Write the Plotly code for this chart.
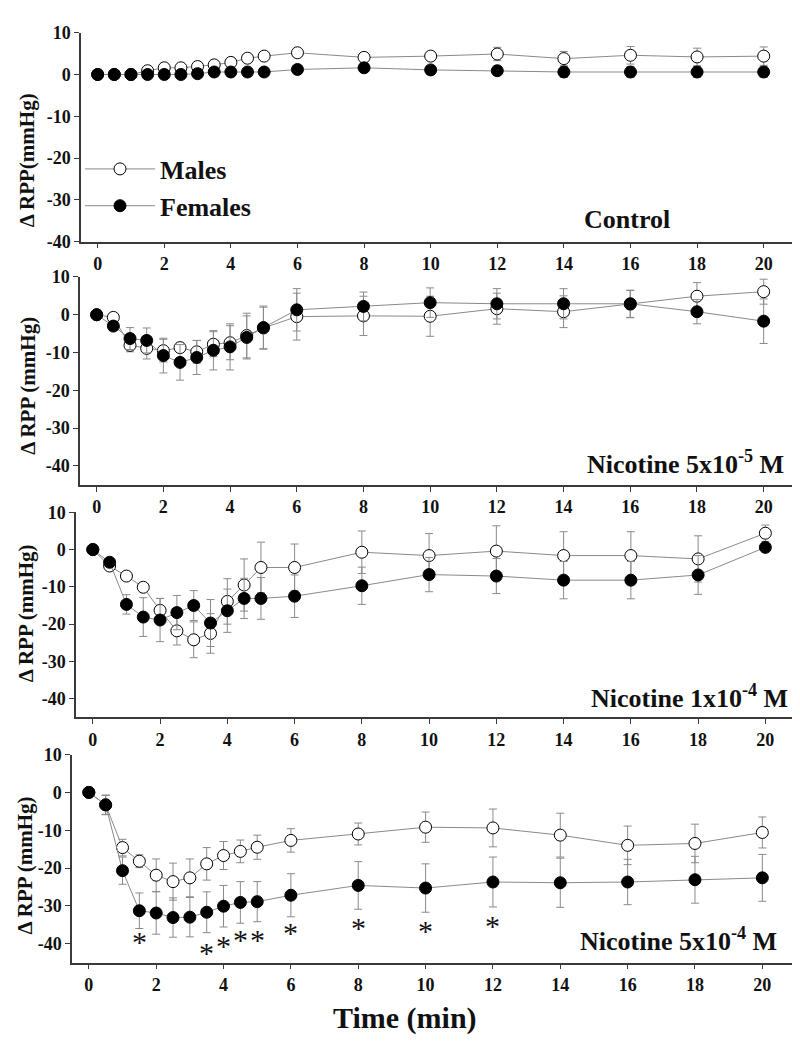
import plotly.graph_objects as go

W, H = 800, 1043
FONT = 'Liberation Serif, Times New Roman, serif'

# time points (min)
time = [0, 0.5, 1, 1.5, 2, 2.5, 3, 3.5, 4, 4.5, 5, 6, 8, 10, 12, 14, 16, 18, 20]

# Control
ctrl_m = [0, 0, 0, 0.9, 1.6, 1.6, 1.9, 2.3, 2.9, 3.9, 4.4, 5.2, 4.1, 4.4, 4.9, 3.8, 4.6, 4.2, 4.4]
ctrl_m_err = [0.3, 0.3, 0.3, 0.5, 0.6, 0.6, 0.6, 0.7, 0.8, 0.9, 1.0, 1.0, 1.0, 0.9, 1.6, 1.7, 2.1, 2.1, 2.2]
ctrl_f = [0, 0, 0, 0, 0, 0, 0.2, 0.6, 0.6, 0.6, 0.6, 1.2, 1.6, 1.1, 0.9, 0.6, 0.6, 0.6, 0.6]
ctrl_f_err = [0.3, 0.3, 0.3, 0.3, 0.3, 0.3, 0.4, 0.5, 0.5, 0.5, 0.5, 0.8, 0.9, 1.0, 1.1, 1.3, 1.3, 1.3, 1.3]

# Nicotine 5x10^-5 M
n55_m = [0, -0.7, -8.1, -8.9, -9.5, -8.7, -9.8, -7.8, -7.4, -5.5, -3.5, -0.5, -0.3, -0.4, 1.6, 0.8, 2.8, 4.9, 6.1]
n55_m_err = [0.3, 0.8, 1.7, 2.8, 3.0, 1.2, 3.0, 3.3, 4.5, 5.9, 5.5, 6.2, 5.2, 5.3, 4.1, 4.2, 3.6, 3.6, 3.3]
n55_f = [0, -3.0, -6.3, -6.8, -10.8, -12.6, -11.3, -9.4, -8.5, -6.0, -3.4, 1.3, 2.2, 3.2, 2.9, 2.9, 2.9, 0.8, -1.7]
n55_f_err = [0.3, 0.8, 2.9, 3.3, 4.6, 4.7, 4.5, 5.2, 6.1, 5.7, 5.7, 5.6, 3.8, 3.9, 4.0, 4.0, 3.6, 3.2, 5.9]

# Nicotine 1x10^-4 M
n14_m = [0, -4.4, -7.1, -10.1, -16.3, -21.8, -24.2, -22.5, -13.9, -9.5, -4.8, -4.8, -0.7, -1.6, -0.4, -1.6, -1.6, -2.5, 4.4]
n14_m_err = [0.3, 0.6, 0.6, 1.0, 3.2, 3.8, 4.8, 5.3, 6.1, 7.0, 6.8, 6.3, 5.7, 5.9, 6.8, 6.4, 6.4, 6.2, 2.2]
n14_f = [0, -3.4, -14.7, -18.1, -18.9, -16.9, -15.0, -19.7, -16.4, -13.1, -13.1, -12.5, -9.7, -6.7, -7.1, -8.2, -8.2, -6.8, 0.6]
n14_f_err = [0.3, 0.8, 2.6, 5.2, 5.8, 4.6, 4.0, 6.3, 5.8, 5.4, 5.6, 5.7, 5.0, 4.6, 4.7, 5.0, 5.0, 5.2, 1.0]

# Nicotine 5x10^-4 M
n54_m = [0, -3.3, -14.6, -18.2, -21.9, -23.6, -22.6, -18.9, -16.7, -15.6, -14.5, -12.7, -11.0, -9.2, -9.4, -11.3, -14.0, -13.5, -10.6]
n54_m_err = [0.3, 2.5, 2.2, 1.7, 4.3, 4.9, 5.0, 4.3, 3.7, 3.0, 3.2, 3.1, 2.9, 4.0, 5.0, 5.8, 5.1, 5.1, 4.1]
n54_f = [0, -3.3, -20.7, -31.3, -31.9, -33.1, -33.0, -31.7, -30.1, -29.1, -28.9, -27.2, -24.6, -25.3, -23.7, -23.9, -23.7, -23.1, -22.6]
n54_f_err = [0.3, 2.6, 3.6, 4.7, 5.6, 5.2, 5.2, 5.4, 5.5, 5.5, 5.3, 5.7, 6.3, 6.4, 6.6, 6.5, 6.0, 6.2, 6.2]

# significance marks (females vs males), 5x10^-4 M panel
star_x = [1.5, 3.5, 4, 4.5, 5, 6, 8, 10, 12]
star_y = [-37.3, -40.2, -38.4, -36.8, -36.8, -35.0, -33.7, -34.4, -33.1]

panels = [
    dict(m=ctrl_m, me=ctrl_m_err, f=ctrl_f, fe=ctrl_f_err, label='<b>Control</b>',
         ytitle='<b>Δ RPP(mmHg)</b>', xpx=(73, 789), ypx=(15, 228), yrange=[-40, 10],
         lab_xy=(664, 205), ytitle_xy=(19, 145)),
    dict(m=n55_m, me=n55_m_err, f=n55_f, fe=n55_f_err, label='<b>Nicotine 5x10<sup>-5</sup> M</b>',
         ytitle='<b>Δ RPP (mmHg)</b>', xpx=(72, 789), ypx=(264, 476), yrange=[-45, 10],
         lab_xy=(778, 453), ytitle_xy=(20, 375)),
    dict(m=n14_m, me=n14_m_err, f=n14_f, fe=n14_f_err, label='<b>Nicotine 1x10<sup>-4</sup> M</b>',
         ytitle='<b>Δ RPP (mmHg)</b>', xpx=(68, 791), ypx=(504, 713), yrange=[-45, 10],
         lab_xy=(782, 692), ytitle_xy=(18, 607)),
    dict(m=n54_m, me=n54_m_err, f=n54_f, fe=n54_f_err, label='<b>Nicotine 5x10<sup>-4</sup> M</b>',
         ytitle='<b>Δ RPP (mmHg)</b>', xpx=(64, 788), ypx=(751, 963), yrange=[-45, 10],
         lab_xy=(771, 940), ytitle_xy=(17, 864)),
]

LINE_C = '#8a8a8a'
AXIS_C = '#3a3a3a'

fig = go.Figure()
layout = dict()
annotations = []

for i, p in enumerate(panels):
    n = '' if i == 0 else str(i + 1)
    xa, ya = 'x' + n, 'y' + n
    # Males: open circles
    fig.add_trace(go.Scatter(
        x=time, y=p['m'], xaxis=xa, yaxis=ya, mode='lines+markers', name='Males',
        showlegend=(i == 0),
        line=dict(color=LINE_C, width=1),
        marker=dict(symbol='circle', size=12, color='white', line=dict(color='black', width=1)),
        error_y=dict(type='data', array=p['me'], color=LINE_C, thickness=1, width=4),
    ))
    # Females: filled circles
    fig.add_trace(go.Scatter(
        x=time, y=p['f'], xaxis=xa, yaxis=ya, mode='lines+markers', name='Females',
        showlegend=(i == 0),
        line=dict(color=LINE_C, width=1),
        marker=dict(symbol='circle', size=12, color='black', line=dict(color='black', width=1)),
        error_y=dict(type='data', array=p['fe'], color=LINE_C, thickness=1, width=4),
    ))

    axis_common = dict(
        showline=True, linecolor=AXIS_C, linewidth=1.5, showgrid=False, zeroline=False,
        ticks='outside', ticklen=5, tickwidth=1.2, tickcolor=AXIS_C,
        tickfont=dict(family=FONT, size=18, color='#111', weight='bold'),
    )
    layout['xaxis' + n] = dict(
        axis_common, domain=[p['xpx'][0] / W, p['xpx'][1] / W], range=[-0.5, 21],
        anchor=ya, tickvals=list(range(0, 21, 2)),
    )
    layout['yaxis' + n] = dict(
        axis_common, domain=[1 - p['ypx'][1] / H, 1 - p['ypx'][0] / H], range=p['yrange'],
        anchor=xa, tickvals=[-40, -30, -20, -10, 0, 10],
        ticktext=['-40', '-30', '-20', '-10', '0', '10'],
    )

    annotations.append(dict(
        text=p['label'], xref='paper', yref='paper', x=p['lab_xy'][0] / W, y=1 - p['lab_xy'][1] / H,
        xanchor='right', yanchor='middle', showarrow=False,
        font=dict(family=FONT, size=26, color='#111'),
    ))
    annotations.append(dict(
        text=p['ytitle'], xref='paper', yref='paper', x=p['ytitle_xy'][0] / W, y=1 - p['ytitle_xy'][1] / H,
        xanchor='center', yanchor='middle', textangle=-90, showarrow=False,
        font=dict(family=FONT, size=21, color='#111'),
    ))

# asterisks in the last panel (glyph sits high in its box, so shift down)
for sx, sy in zip(star_x, star_y):
    annotations.append(dict(
        text='*', xref='x4', yref='y4', x=sx, y=sy, yshift=-8,
        xanchor='center', yanchor='middle', showarrow=False,
        font=dict(family=FONT, size=30, color='#111'),
    ))

annotations.append(dict(
    text='<b>Time (min)</b>', xref='paper', yref='paper', x=397 / W, y=1 - 1020 / H,
    xanchor='center', yanchor='middle', showarrow=False,
    font=dict(family=FONT, size=30, color='#111'),
))

fig.update_layout(
    **layout,
    annotations=annotations,
    width=W, height=H,
    margin=dict(l=0, r=0, t=0, b=0),
    paper_bgcolor='white', plot_bgcolor='white',
    showlegend=True,
    legend=dict(
        x=72 / W, y=1 - 130 / H, xanchor='left', yanchor='top',
        bgcolor='rgba(0,0,0,0)', itemwidth=70, tracegroupgap=0,
        font=dict(family=FONT, size=26, color='#111', weight='bold'),
    ),
)

fig.write_html('out.html')
